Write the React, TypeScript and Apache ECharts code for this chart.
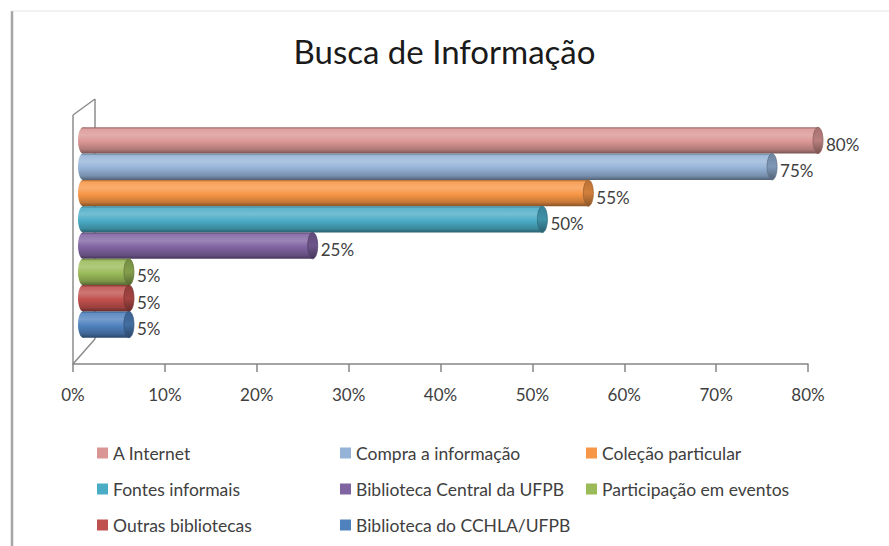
import React, { useEffect, useRef } from "react";
import * as echarts from "echarts";

const seriesNames = [
  "A Internet",
  "Compra a informação",
  "Coleção particular",
  "Fontes informais",
  "Biblioteca Central da UFPB",
  "Participação em eventos",
  "Outras bibliotecas",
  "Biblioteca do CCHLA/UFPB",
];
const seriesValues = [80, 75, 55, 50, 25, 5, 5, 5];
const seriesColors = [
  "#DA9694",
  "#95B3D7",
  "#F79646",
  "#4BACC6",
  "#8064A2",
  "#9BBB59",
  "#C0504D",
  "#4F81BD",
];
const xTicks = [0, 10, 20, 30, 40, 50, 60, 70, 80];

const legendCol1 = ["A Internet", "Fontes informais", "Outras bibliotecas"];
const legendCol2 = ["Compra a informação", "Biblioteca Central da UFPB", "Biblioteca do CCHLA/UFPB"];
const legendCol3 = ["Coleção particular", "Participação em eventos"];

const FONT = "Lato";

function mix(hex: string, target: number, t: number): string {
  const n = parseInt(hex.slice(1), 16);
  const r = (n >> 16) & 255, g = (n >> 8) & 255, b = n & 255;
  const f = (c: number) => Math.round(c + (target - c) * t);
  return `rgb(${f(r)},${f(g)},${f(b)})`;
}

export default function App() {
  const ref = useRef<HTMLDivElement>(null);
  useEffect(() => {
    if (!ref.current) return;
    const chart = echarts.init(ref.current, null, { renderer: "svg" });
    const DEPTH = 10;
    const RX = 5;

    const makeRender = (color: string) => (params: any, api: any) => {
      const v = api.value(0);
      const idx = api.value(1);
      const p0 = api.coord([0, idx]);
      const p1 = api.coord([v, idx]);
      const h = api.size([0, 1])[1];
      const x0 = p0[0] + DEPTH;
      const x1 = p1[0] + DEPTH;
      const cy = p0[1];
      const top = cy - h / 2;
      const bodyGrad = new echarts.graphic.LinearGradient(0, 0, 0, 1, [
        { offset: 0, color: mix(color, 0, 0.3) },
        { offset: 0.08, color: mix(color, 255, 0.1) },
        { offset: 0.3, color: mix(color, 255, 0.22) },
        { offset: 0.55, color: color },
        { offset: 0.85, color: mix(color, 0, 0.2) },
        { offset: 1, color: mix(color, 0, 0.45) },
      ]);
      const capGrad = new echarts.graphic.LinearGradient(0, 0, 0, 1, [
        { offset: 0, color: mix(color, 0, 0.25) },
        { offset: 0.5, color: mix(color, 0, 0.15) },
        { offset: 1, color: mix(color, 0, 0.45) },
      ]);
      return {
        type: "group",
        children: [
          {
            type: "ellipse",
            shape: { cx: x0, cy, rx: RX, ry: h / 2 },
            style: { fill: bodyGrad },
          },
          {
            type: "rect",
            shape: { x: x0, y: top, width: Math.max(0, x1 - x0), height: h },
            style: { fill: bodyGrad },
          },
          {
            type: "ellipse",
            shape: { cx: x1, cy, rx: RX, ry: h / 2 },
            style: { fill: capGrad, stroke: mix(color, 0, 0.35), lineWidth: 0.8 },
          },
          {
            type: "text",
            x: x1 + RX + 3,
            y: cy + 4,
            style: {
              text: v + "%",
              fill: "#404040",
              fontSize: 17,
              fontFamily: FONT,
              verticalAlign: "middle",
              align: "left",
            },
          },
        ],
      };
    };

    const legendCommon = {
      orient: "vertical",
      icon: "rect",
      itemWidth: 11,
      itemHeight: 11,
      itemGap: 16,
      padding: 0,
      selectedMode: false,
      textStyle: { fontSize: 17.5, color: "#404040", fontFamily: FONT, lineHeight: 20 },
    };

    const wall = "#8c8c8c";
    chart.setOption({
      animation: false,
      backgroundColor: "#ffffff",
      title: {
        text: "Busca de Informação",
        left: "center",
        top: 29,
        textStyle: { fontSize: 33, fontWeight: "normal", color: "#1a1a1a", fontFamily: FONT },
      },
      grid: { left: 73, right: 81, top: 101, bottom: 182, containLabel: false },
      xAxis: {
        type: "value",
        min: xTicks[0],
        max: xTicks[xTicks.length - 1],
        interval: 10,
        axisLine: { show: true, onZero: false, lineStyle: { color: "#868686", width: 1.5 } },
        axisTick: { show: true, length: 8, lineStyle: { color: "#868686", width: 1.5 } },
        splitLine: { show: false },
        axisLabel: {
          formatter: "{value}%",
          fontSize: 17,
          color: "#404040",
          fontFamily: FONT,
          margin: 22,
        },
      },
      yAxis: { type: "value", inverse: true, min: -1.5, max: 8.5, show: false },
      legend: [
        { ...legendCommon, data: legendCol1, left: 97, top: 443 },
        { ...legendCommon, data: legendCol2, left: 340, top: 443 },
        { ...legendCommon, data: legendCol3, left: 586, top: 443 },
      ],
      graphic: [
        { type: "line", shape: { x1: 12, y1: 11, x2: 12, y2: 546 }, style: { stroke: "#a6a6a6", lineWidth: 2.5 } },
        { type: "line", shape: { x1: 12, y1: 11, x2: 889, y2: 11 }, style: { stroke: "#e4e4e4", lineWidth: 1 } },
        { type: "line", shape: { x1: 73, y1: 115, x2: 73, y2: 364 }, style: { stroke: wall, lineWidth: 1.5 } },
        { type: "line", shape: { x1: 73, y1: 115, x2: 95, y2: 99 }, style: { stroke: wall, lineWidth: 1.5 } },
        { type: "line", shape: { x1: 95, y1: 99, x2: 95, y2: 339 }, style: { stroke: wall, lineWidth: 1.5 } },
        { type: "line", shape: { x1: 95, y1: 339, x2: 73, y2: 364 }, style: { stroke: wall, lineWidth: 1.5 } },
      ],
      series: seriesNames.map((name, i) => ({
        type: "custom",
        name,
        itemStyle: { color: seriesColors[i] },
        encode: { x: 0, y: 1 },
        data: [[seriesValues[i], i]],
        renderItem: makeRender(seriesColors[i]),
        z: 10 + i,
      })),
    });
    return () => chart.dispose();
  }, []);
  return (
    <div
      ref={ref}
      style={{ position: "fixed", left: 0, top: 0, width: 889, height: 546, background: "#fff" }}
    />
  );
}
